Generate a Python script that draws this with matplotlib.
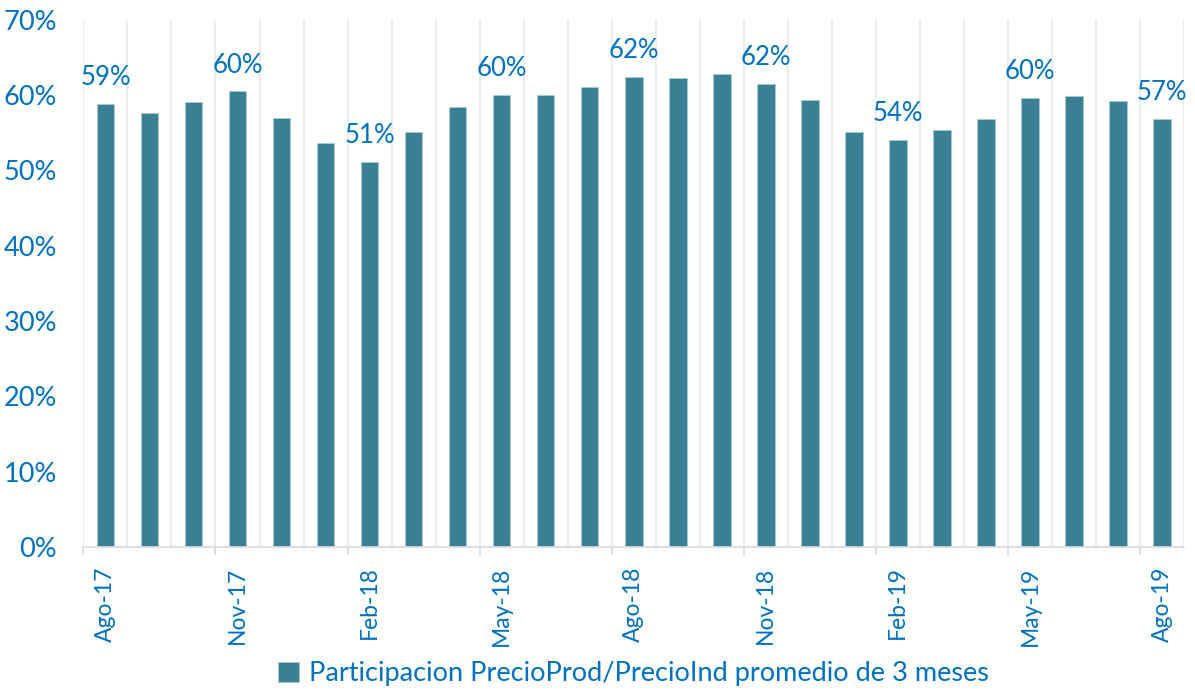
import matplotlib.pyplot as plt
from matplotlib.ticker import FixedLocator

months = ['Ago-17', 'Sep-17', 'Oct-17', 'Nov-17', 'Dic-17', 'Ene-18', 'Feb-18',
          'Mar-18', 'Abr-18', 'May-18', 'Jun-18', 'Jul-18', 'Ago-18', 'Sep-18',
          'Oct-18', 'Nov-18', 'Dic-18', 'Ene-19', 'Feb-19', 'Mar-19', 'Abr-19',
          'May-19', 'Jun-19', 'Jul-19', 'Ago-19']
share = [58.8, 57.7, 59.1, 60.5, 57.0, 53.7, 51.1, 55.1, 58.4, 60.0, 60.0, 61.1,
         62.4, 62.3, 62.8, 61.5, 59.4, 55.1, 54.1, 55.4, 56.9, 59.6, 59.9, 59.2, 56.9]
series_name = 'Participacion PrecioProd/PrecioInd promedio de 3 meses'

bar_color = '#3A8094'
text_color = '#0070C0'

plt.rcParams['font.family'] = ['Lato', 'DejaVu Sans']

fig = plt.figure(figsize=(11.95, 6.9), dpi=100)
ax = fig.add_axes([0.0698, 0.2072, 0.921, 0.764])

x = list(range(len(months)))
ax.bar(x, share, width=0.4, color=bar_color, edgecolor='#A9CBD4',
       linewidth=0.6, label=series_name, zorder=3)

# labels on every third bar
for i in range(0, len(months), 3):
    ax.annotate(f'{round(share[i]):.0f}%', (i, share[i]), xytext=(0, 13.5),
                textcoords='offset points', ha='center', va='baseline',
                color=text_color, fontsize=18.5)

ax.set_xlim(-0.5, len(months) - 0.5)
ax.set_ylim(0, 70)
ax.set_yticks(range(0, 71, 10))
ax.set_yticklabels([f'{v}%' for v in range(0, 71, 10)])
ax.tick_params(axis='y', length=0, pad=19, labelsize=19.5, labelcolor=text_color)

ax.set_xticks(x[::3])
ax.set_xticklabels(months[::3], rotation=90)
ax.tick_params(axis='x', which='major', length=0, pad=14, labelsize=16.5,
               labelcolor=text_color)
ax.xaxis.set_minor_locator(FixedLocator([i - 0.5 for i in range(0, len(months) + 1, 3)]))
ax.tick_params(axis='x', which='minor', length=6, width=1.2, color='#D9D9D9')

# vertical grid at every category boundary
for b in range(len(months) + 1):
    ax.axvline(b - 0.5, color='#EDEDED', lw=1.5, zorder=1)

for s in ['top', 'right', 'left']:
    ax.spines[s].set_visible(False)
ax.spines['bottom'].set_color('#D9D9D9')
ax.spines['bottom'].set_linewidth(1.2)
ax.spines['bottom'].set_zorder(4)

ax.legend(loc='center', bbox_to_anchor=(0.5, -0.24), frameon=False,
          fontsize=19.5, labelcolor=text_color, handlelength=0.75, handleheight=0.75,
          handletextpad=0.4)

fig.savefig('out.png', dpi=100)
